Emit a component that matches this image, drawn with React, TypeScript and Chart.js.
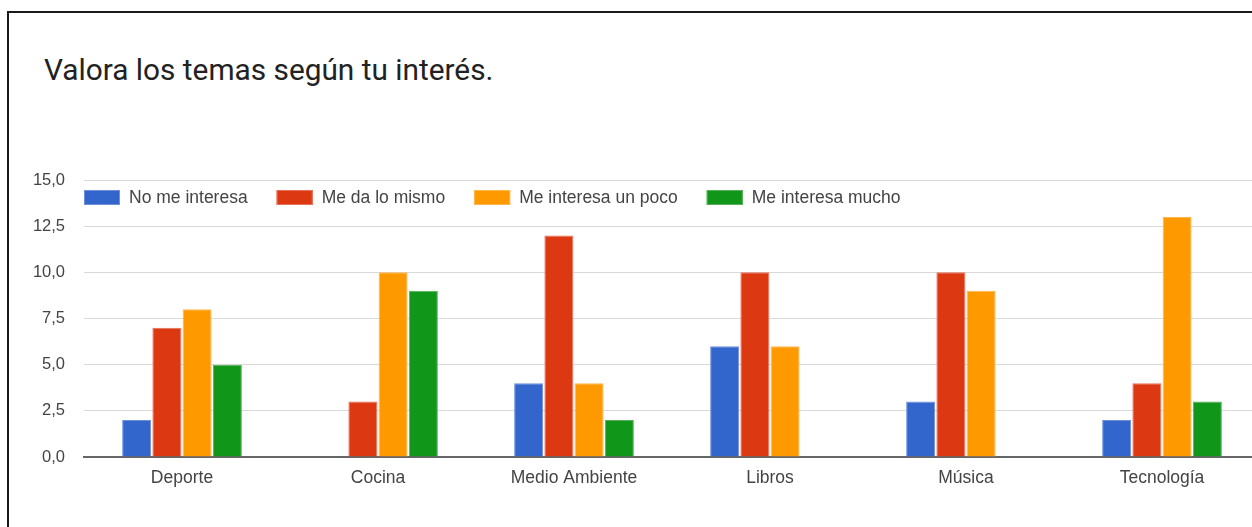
import React, { useEffect, useRef } from "react";
import { Chart, registerables } from "chart.js";

Chart.register(...registerables);

const TITLE = "Valora los temas según tu interés.";
const categories = ["Deporte", "Cocina", "Medio Ambiente", "Libros", "Música", "Tecnología"];
const seriesNames = ["No me interesa", "Me da lo mismo", "Me interesa un poco", "Me interesa mucho"];
const noMeInteresa = [2, 0, 4, 6, 3, 2];
const meDaLoMismo = [7, 3, 12, 10, 10, 4];
const meInteresaUnPoco = [8, 10, 4, 6, 9, 13];
const meInteresaMucho = [5, 9, 2, 0, 0, 3];
const yTicks = [0, 2.5, 5, 7.5, 10, 12.5, 15];

const colors = ["#3366cc", "#dc3912", "#ff9900", "#109618"];
const borderColors = ["#6f90d8", "#e6705a", "#ffb74d", "#5aae5c"];
const FONT = "'Liberation Sans', Arial, sans-serif";

const legendPlugin = {
  id: "customLegend",
  afterDraw(chart: any) {
    const ctx = chart.ctx;
    const area = chart.chartArea;
    let x = area.left;
    const boxTop = area.top + 10;
    ctx.save();
    ctx.font = `17.5px ${FONT}`;
    ctx.textBaseline = "middle";
    ctx.textAlign = "left";
    chart.data.datasets.forEach((ds: any) => {
      ctx.fillStyle = ds.backgroundColor;
      ctx.fillRect(x, boxTop, 36, 15);
      ctx.strokeStyle = ds.borderColor;
      ctx.lineWidth = 1;
      ctx.strokeRect(x + 0.5, boxTop + 0.5, 35, 14);
      ctx.fillStyle = "#444";
      const tx = x + 45;
      ctx.fillText(ds.label, tx, boxTop + 8);
      const w = ctx.measureText(ds.label).width;
      x = tx + w + 29;
    });
    ctx.restore();
  },
};

export default function App() {
  const ref = useRef<HTMLCanvasElement>(null);

  useEffect(() => {
    if (!ref.current) return;
    const values = [noMeInteresa, meDaLoMismo, meInteresaUnPoco, meInteresaMucho];
    const chart = new Chart(ref.current, {
      type: "bar",
      data: {
        labels: categories,
        datasets: seriesNames.map((name, i) => ({
          label: name,
          data: values[i],
          backgroundColor: colors[i],
          borderColor: borderColors[i],
          borderWidth: (c: any) => (c.raw === 0 ? 0 : 1),
          categoryPercentage: 0.617,
          barPercentage: 0.96,
        })),
      },
      options: {
        responsive: false,
        animation: false,
        layout: { padding: { top: 40, right: 40, left: 0, bottom: 0 } },
        plugins: {
          legend: { display: false },
          title: { display: false },
          tooltip: { enabled: false },
        },
        scales: {
          x: {
            grid: { display: false, drawTicks: false },
            border: { display: true, color: "#666", width: 2 },
            ticks: { color: "#444", font: { family: FONT, size: 17.5 }, padding: 11, maxRotation: 0 },
            afterFit: (s: any) => {
              s.height = 70;
            },
          },
          y: {
            min: 0,
            max: 15,
            afterBuildTicks: (s: any) => {
              s.ticks = yTicks.map((v) => ({ value: v }));
            },
            grid: { color: "#d9d9d9", lineWidth: 1, drawTicks: false },
            border: { display: false },
            ticks: {
              color: "#444",
              font: { family: FONT, size: 16.5 },
              padding: 19,
              callback: (v: any) => Number(v).toFixed(1).replace(".", ","),
            },
            afterFit: (s: any) => {
              s.width = 84;
            },
          },
        },
      },
      plugins: [legendPlugin],
    });
    return () => chart.destroy();
  }, []);

  return (
    <div style={{ position: "fixed", left: 0, top: 0, width: 1252, height: 527, overflow: "hidden", background: "#fff" }}>
      <div
        style={{
          position: "absolute",
          left: 7,
          top: 11,
          width: 1300,
          height: 600,
          borderLeft: "2px solid #1a1a1a",
          borderTop: "2px solid #1a1a1a",
        }}
      />
      <div
        style={{
          position: "absolute",
          left: 44,
          top: 55,
          fontFamily: "Roboto, sans-serif",
          fontSize: 29.8,
          lineHeight: "30px",
          color: "#222",
          whiteSpace: "nowrap",
        }}
      >
        {TITLE}
      </div>
      <canvas
        ref={ref}
        width={1300}
        height={387}
        style={{ position: "absolute", left: 0, top: 140, width: 1300, height: 387 }}
      />
    </div>
  );
}
